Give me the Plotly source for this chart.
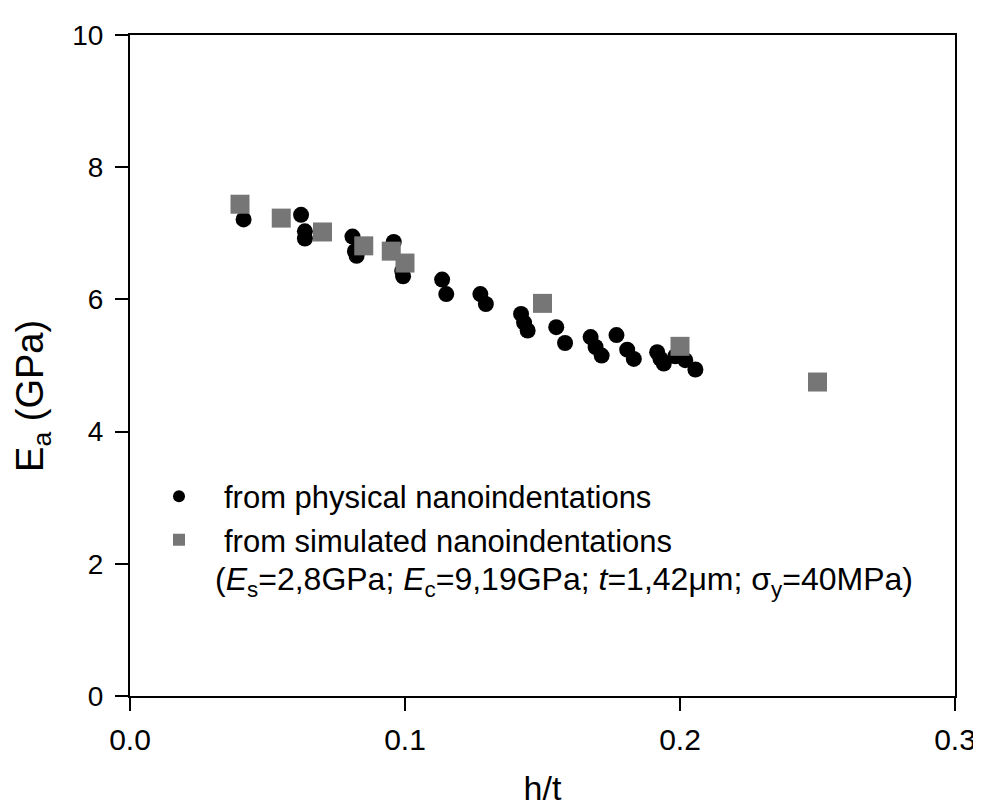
import plotly.graph_objects as go

# physical nanoindentations (circles)
phys_x = [0.0413, 0.0622, 0.0636, 0.0636, 0.0809, 0.0818, 0.0824, 0.0959, 0.0990, 0.0993,
          0.1135, 0.1150, 0.1274, 0.1294, 0.1422, 0.1433, 0.1446, 0.1550, 0.1582, 0.1675,
          0.1693, 0.1715, 0.1769, 0.1808, 0.1832, 0.1917, 0.1929, 0.1941, 0.1983, 0.2019, 0.2056]
phys_y = [7.21, 7.28, 7.03, 6.92, 6.95, 6.73, 6.66, 6.87, 6.43, 6.35,
          6.30, 6.08, 6.08, 5.93, 5.78, 5.65, 5.53, 5.58, 5.34, 5.43,
          5.28, 5.15, 5.46, 5.24, 5.10, 5.20, 5.10, 5.03, 5.14, 5.08, 4.94]

# simulated nanoindentations (squares)
sim_x = [0.040, 0.055, 0.070, 0.085, 0.095, 0.100, 0.150, 0.200, 0.250]
sim_y = [7.44, 7.23, 7.02, 6.81, 6.73, 6.55, 5.94, 5.29, 4.75]

x_ticks = [0.0, 0.1, 0.2, 0.3]
x_ticklabels = ["0.0", "0.1", "0.2", "0.3"]
y_ticks = [0, 2, 4, 6, 8, 10]

FONT = "Liberation Sans, Arial, sans-serif"

# page body margin shifts the figure; compensate in the margins
OFF = 7
W, H = 981, 810
L, T = 129 - OFF, 32 - OFF
PW, PH = 825, 663
R, B = W - L - PW, H - T - PH


def px_x(px):
    return (px - OFF - L) / PW


def px_y(py):
    return (H - B - (py - OFF)) / PH


fig = go.Figure()
fig.add_trace(go.Scatter(x=phys_x, y=phys_y, mode="markers", name="from physical nanoindentations",
                         marker=dict(symbol="circle", size=16, color="black")))
fig.add_trace(go.Scatter(x=sim_x, y=sim_y, mode="markers", name="from simulated nanoindentations",
                         marker=dict(symbol="square", size=19, color="#767676")))

fig.add_annotation(xref="paper", yref="paper", x=px_x(212), y=px_y(580),
                   xanchor="left", yanchor="middle", showarrow=False,
                   text="(<i>E</i><sub>s</sub>=2,8GPa; <i>E</i><sub>c</sub>=9,19GPa; <i>t</i>=1,42μm; σ<sub>y</sub>=40MPa)",
                   font=dict(family=FONT, size=32, color="black"))

# y-axis title as rotated text
fig.add_annotation(xref="paper", yref="paper", x=px_x(32), y=px_y(394),
                   xanchor="center", yanchor="middle", showarrow=False, textangle=-90,
                   text="E<sub>a</sub> (GPa)",
                   font=dict(family=FONT, size=38, color="black"))

axis_common = dict(showline=True, linecolor="black", linewidth=2, mirror=True,
                   ticks="outside", tickwidth=2, tickcolor="black", ticklen=13,
                   showgrid=False, zeroline=False)

fig.update_layout(
    width=W, height=H,
    margin=dict(l=L, r=R, t=T, b=B),
    paper_bgcolor="white", plot_bgcolor="white",
    showlegend=True,
    legend=dict(x=px_x(133), y=px_y(468), xanchor="left", yanchor="top",
                font=dict(family=FONT, size=31, color="black"),
                bgcolor="rgba(0,0,0,0)", tracegroupgap=0, itemwidth=80,
                itemsizing="constant"),
    xaxis=dict(range=[0, 0.3], tickvals=x_ticks, ticktext=x_ticklabels, ticklabelstandoff=3,
               tickfont=dict(family=FONT, size=30, color="black"),
               title=dict(text="h/t", font=dict(family=FONT, size=34, color="black"), standoff=21),
               **axis_common),
    yaxis=dict(range=[0, 10], tickvals=y_ticks, ticklabelstandoff=6,
               tickfont=dict(family=FONT, size=28, color="black"),
               **axis_common),
)

fig.write_html("out.html")
